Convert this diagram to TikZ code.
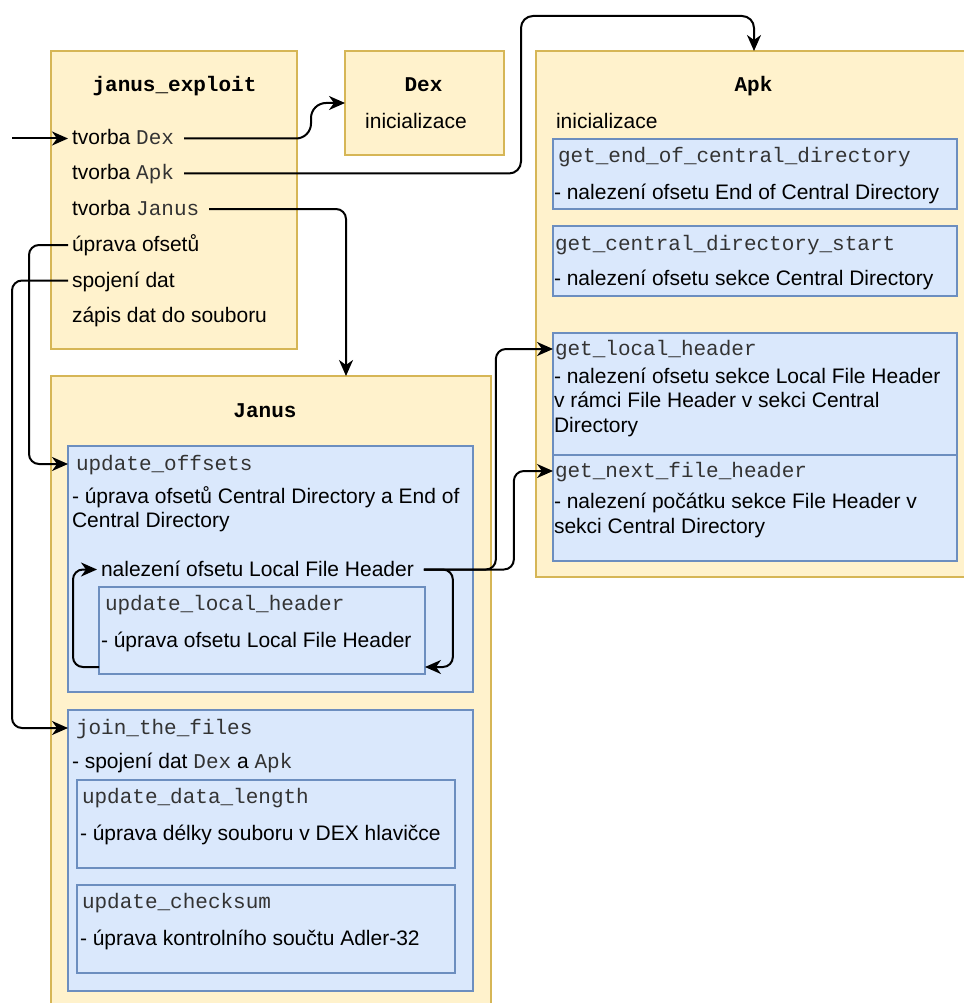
\documentclass[tikz,border=0pt]{standalone}
\usepackage{fontspec}
\setmainfont{Liberation Sans}
\setmonofont{Liberation Mono}
\usetikzlibrary{arrows.meta,calc}
\definecolor{ylfill}{HTML}{FFF2CC}
\definecolor{yldraw}{HTML}{D6B656}
\definecolor{blfill}{HTML}{DAE8FC}
\definecolor{bldraw}{HTML}{6C8EBF}
\newcommand\code[1]{{\ttfamily\color{black!80}#1}}
\newcommand\paratext[1]{\parbox[t]{400pt}{\raggedright #1}}

\begin{document}
\begin{tikzpicture}[x=1pt,y=-1pt,
  ybox/.style={draw=yldraw, fill=ylfill, line width=1.5pt, inner sep=0pt, outer sep=0pt, anchor=north west},
  bbox/.style={draw=bldraw, fill=blfill, line width=1.5pt, inner sep=0pt, outer sep=0pt, anchor=north west},
  txt/.style={font=\fontsize{21pt}{24.8pt}\selectfont, inner xsep=4pt, inner ysep=0pt, outer sep=0pt,
              text height=13pt, text depth=0pt, anchor=base west},
  lbl/.style={txt, font=\fontsize{21pt}{24.8pt}\selectfont\ttfamily\color{black!80}, text height=12pt},
  ttl/.style={txt, font=\fontsize{21pt}{24.8pt}\selectfont\ttfamily\bfseries, anchor=base},
  para/.style={font=\fontsize{21pt}{24.8pt}\selectfont, inner sep=0pt, outer sep=0pt, anchor=base west},
  conn/.style={draw=black, line width=2pt, rounded corners=10pt,
               -{Stealth[length=16pt,width=14pt,inset=5pt]}},
  gap/.style={shorten <=6pt}
]
\useasboundingbox (0,0) rectangle (963,1003);

% --- containers ---
\node[ybox, minimum width=246pt, minimum height=298pt] (je) at (51,51) {};
\node[ybox, minimum width=159pt, minimum height=104pt] (dex) at (345,51) {};
\node[ybox, minimum width=436pt, minimum height=526pt] (apk) at (536,51) {};
\node[ybox, minimum width=440pt, minimum height=660pt] (janus) at (51,376) {};

% --- functions of Apk ---
\node[bbox, minimum width=404pt, minimum height=70pt] (gecd) at (553,139) {};
\node[bbox, minimum width=404pt, minimum height=70pt] (gcds) at (553,226) {};
\node[bbox, minimum width=404pt, minimum height=122pt] (glh) at (553,333) {};
\node[bbox, minimum width=404pt, minimum height=106pt] (gnf) at (553,455) {};

% --- functions of Janus ---
\node[bbox, minimum width=405pt, minimum height=246pt] (uo) at (68,446) {};
\node[bbox, minimum width=326pt, minimum height=87pt] (ulh) at (99,587) {};
\node[bbox, minimum width=405pt, minimum height=281pt] (jtf) at (68,710) {};
\node[bbox, minimum width=378pt, minimum height=88pt] (udl) at (77,780) {};
\node[bbox, minimum width=378pt, minimum height=88pt] (uc) at (77,885) {};

% --- janus_exploit ---
\node[ttl] (jeT) at (174.5,92) {janus\_exploit};
\node[txt] (tdex) at (68,145) {tvorba \code{Dex}};
\node[txt] (tapk) at (68,180) {tvorba \code{Apk}};
\node[txt] (tjanus) at (68,215.5) {tvorba \code{Janus}};
\node[txt] (tupr) at (68,251.5) {úprava ofsetů};
\node[txt] (tspoj) at (68,287) {spojení dat};
\node[txt] (tzap) at (68,322.5) {zápis dat do souboru};

% --- Dex ---
\node[ttl] (dexT) at (423.5,92) {Dex};
\node[txt, anchor=base] (dexI) at (416,129) {inicializace};

% --- Apk ---
\node[ttl] (apkT) at (753.5,92) {Apk};
\node[para] (apkI) at (556,128.5) {inicializace};
\node[lbl] (gecdL) at (554,163) {get\_end\_of\_central\_directory};
\node[para] (gecdD) at (554,199.5) {- nalezení ofsetu End of Central Directory};
\node[lbl] (gcdsL) at (551,250.5) {get\_central\_directory\_start};
\node[para] (gcdsD) at (554,285) {- nalezení ofsetu sekce Central Directory};
\node[lbl] (glhL) at (551,355) {get\_local\_header};
\node[para] (glhD) at (554,383) {\paratext{- nalezení ofsetu sekce Local File Header\\v rámci File Header v sekci Central\\Directory}};
\node[lbl] (gnfL) at (551,477) {get\_next\_file\_header};
\node[para] (gnfD) at (554,508.5) {\paratext{- nalezení počátku sekce File Header v\\sekci Central Directory}};

% --- Janus ---
\node[ttl] (janusT) at (265,417) {Janus};
\node[lbl] (uoL) at (72,470) {update\_offsets};
\node[para] (uoD) at (72,503) {\paratext{- úprava ofsetů Central Directory a End of\\Central Directory}};
\node[txt] (tnal) at (97,576) {nalezení ofsetu Local File Header};
\node[lbl] (ulhL) at (101,610.5) {update\_local\_header};
\node[para] (ulhD) at (101,647) {- úprava ofsetu Local File Header};
\node[lbl] (jtfL) at (72,734) {join\_the\_files};
\node[para] (jtfD) at (72,768) {- spojení dat \code{Dex} a \code{Apk}};
\node[lbl] (udlL) at (78,803) {update\_data\_length};
\node[para] (udlD) at (80,840.5) {- úprava délky souboru v DEX hlavičce};
\node[lbl] (ucL) at (78,908) {update\_checksum};
\node[para] (ucD) at (80,945) {- úprava kontrolního součtu Adler-32};

% --- connectors ---
\coordinate (entry) at ($(tdex.west)+(-56,0)$);
\coordinate (dexbend) at (311,103);
\coordinate (apkbend) at (521,16);
\coordinate (janusbend) at (346,376);

\draw[conn] (entry) -- (tdex.west);
\draw[conn, gap, rounded corners=15pt] (tdex.east) -| (dexbend) -- (dex.west);
\draw[conn, gap, rounded corners=12pt] (tapk.east) -| (apkbend) -| (apk.north);
\draw[conn, gap] (tjanus.east) -| (janusbend);
\draw[conn] (tupr.west) -- ++(-39,0) |- (uoL.west -| uo.west);
\draw[conn] (tspoj.west) -- ++(-56,0) |- (jtfL.west -| jtf.west);
\draw[conn, gap] (tnal.east) -- ++(78,0) |- (glhL.west -| glh.west);
\draw[conn, gap] (tnal.east) -- ++(96,0) |- (gnfL.west -| gnf.west);
\draw[conn, gap] (tnal.east) -- ++(35,0) |- ([yshift=7pt]ulh.south east);
\draw[conn] ([yshift=7pt]ulh.south west) -- ++(-26,0) |- (tnal.west);
\end{tikzpicture}
\end{document}
